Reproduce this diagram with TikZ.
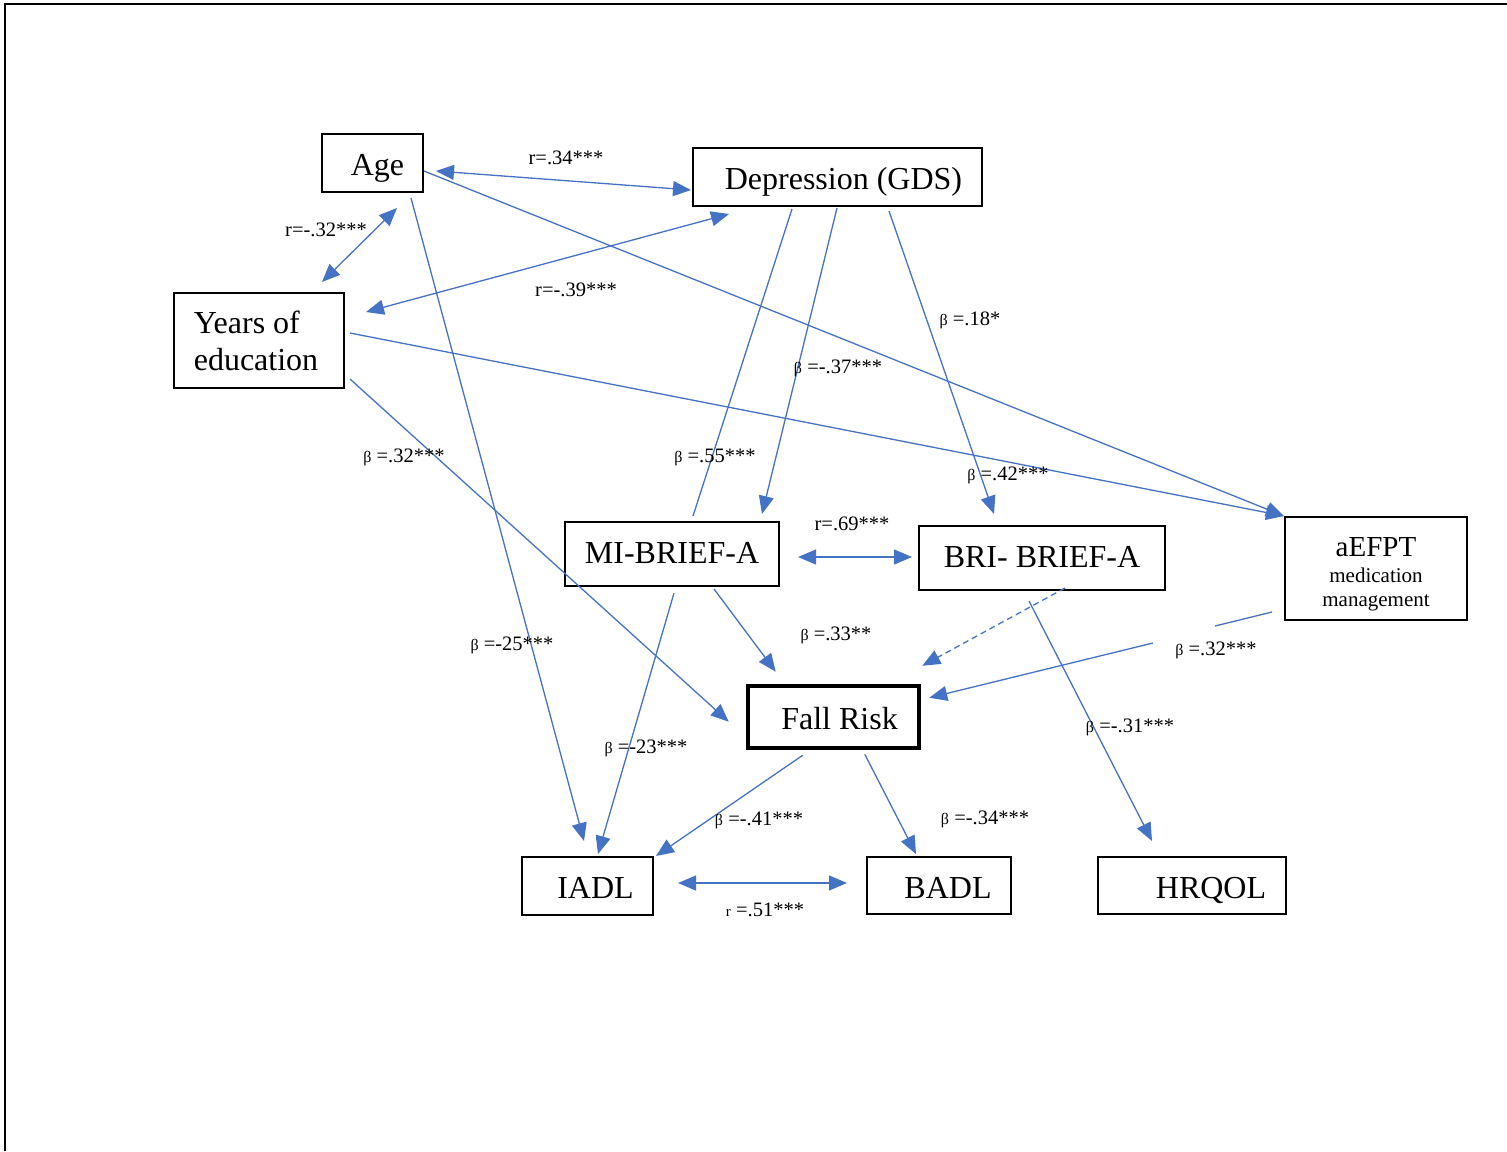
\documentclass[tikz,border=0pt]{standalone}
\usepackage{fontspec}
\setmainfont{Liberation Serif}
\usetikzlibrary{arrows.meta}
\definecolor{lnblue}{HTML}{4472C4}
\newcommand\mainsz{\fontsize{32}{37}\selectfont}
\newcommand\labsz{\fontsize{20.5}{24}\selectfont}
\newcommand\bet{{\fontsize{16}{20}\selectfont β}}
\begin{document}
\begin{tikzpicture}[x=1pt,y=-1pt,
  box/.style={draw=black, line width=2pt, inner sep=0pt, font=\mainsz},
  one/.style={text height=27pt, text depth=2pt},
  onelow/.style={text height=21pt, text depth=2pt},
  conn/.style={draw=lnblue, line width=1.3pt, -{Triangle[length=18pt,width=15pt]}},
  bconn/.style={draw=lnblue, line width=1.3pt, {Triangle[length=18pt,width=15pt]}-{Triangle[length=18pt,width=15pt]}},
  plainconn/.style={draw=lnblue, line width=1.3pt},
  lab/.style={font=\labsz, inner sep=0pt}
]
\useasboundingbox (0,0) rectangle (1507,1151);
\draw[line width=2.5pt] (5,1151) -- (5,4) -- (1507,4);

% nodes
\node[box, one, minimum width=101pt, minimum height=58pt] (age) at (372.5,163) {\hspace*{10pt}Age};
\node[box, one, minimum width=289pt, minimum height=58pt] (dep) at (837.5,177) {\hspace*{12pt}Depression (GDS)};
\node[box, minimum width=170pt, minimum height=95pt, align=left] (yrs) at (259,340.5) {Years of\\education\hspace*{6pt}};
\node[box, onelow, minimum width=214pt, minimum height=64pt] (mi) at (672,554) {MI-BRIEF-A};
\node[box, onelow, minimum width=246pt, minimum height=64pt] (bri) at (1042,558) {BRI- BRIEF-A};
\node[box, font=\fontsize{21}{23.5}\selectfont, text height=75pt, text depth=0pt, minimum width=182pt, minimum height=103pt, align=center] (efpt) at (1376,568.5)
  {{\fontsize{29}{30}\selectfont aEFPT}\\[3pt]medication\\management};
\node[box, one, line width=4.5pt, minimum width=171pt, minimum height=62pt] (fall) at (833.5,717) {\hspace*{12pt}Fall Risk};
\node[box, one, minimum width=131pt, minimum height=58pt] (iadl) at (587.5,886) {\hspace*{16pt}IADL};
\node[box, one, minimum width=144pt, minimum height=57pt] (badl) at (939,885.5) {\hspace*{18pt}BADL};
\node[box, one, minimum width=188pt, minimum height=57pt] (hrq) at (1192,885.5) {\hspace*{38pt}HRQOL};

% connectors
\draw[bconn] ([shift={(12,38)}]age.north east) -- ([shift={(-1,43)}]dep.north west);
\draw[bconn] ([shift={(76,15)}]age.south west) -- ([shift={(149,-10)}]yrs.north west);
\draw[bconn] ([shift={(21,20)}]yrs.north east) -- ([shift={(37,7)}]dep.south west);
\draw[conn] ([shift={(0,38)}]age.north east) -- (efpt.north west);
\draw[conn] ([shift={(5,41)}]yrs.north east) -- (efpt.north west);
\draw[conn] ([shift={(90,5)}]age.south west) -- ([shift={(63,-15)}]iadl.north west);
\draw[conn] ([shift={(5,-10)}]yrs.south east) -- ([shift={(-17,38)}]fall.north west);
\draw[plainconn] ([shift={(100,2)}]dep.south west) -- ([shift={(129,-5)}]mi.north west);
\draw[conn] ([shift={(145,1)}]dep.south west) -- ([shift={(198,-7)}]mi.north west);
\draw[conn] ([shift={(197,4)}]dep.south west) -- ([shift={(76,-11)}]bri.north west);
\draw[bconn] ([shift={(18,36)}]mi.north east) -- ([shift={(-6,32)}]bri.north west);
\draw[conn] ([shift={(150,2)}]mi.south west) -- ([shift={(30,-12)}]fall.north west);
\draw[conn, dash pattern=on 6pt off 4pt] ([shift={(147,-3)}]bri.south west) -- ([shift={(1,-18)}]fall.north east);
\draw[conn] ([shift={(111,10)}]bri.south west) -- ([shift={(55,-15)}]hrq.north west);
\coordinate (g1) at (1215,626);
\coordinate (g2) at (1153,643);
\draw[plainconn] ([shift={(-12,-9)}]efpt.south west) -- (g1);
\draw[conn] (g2) -- ([shift={(8,14)}]fall.north east);
\draw[conn] ([shift={(110,6)}]mi.south west) -- ([shift={(77,-2)}]iadl.north west);
\draw[conn] ([shift={(57,5)}]fall.south west) -- ([shift={(2,0)}]iadl.north east);
\draw[conn] ([shift={(119,4)}]fall.south west) -- ([shift={(50,-2)}]badl.north west);
\draw[bconn] ([shift={(24,27)}]iadl.north east) -- ([shift={(-19,27)}]badl.north west);

% labels
\node[lab] (l1) at (566,158) {r=.34***};
\node[lab] (l2) at (326,230) {r=-.32***};
\node[lab] (l3) at (576,290) {r=-.39***};
\node[lab] (l4) at (970,320) {\bet\ =.18*};
\node[lab] (l5) at (838,368) {\bet\ =-.37***};
\node[lab] (l6) at (404,457) {\bet\ =.32***};
\node[lab] (l7) at (715,457) {\bet\ =.55***};
\node[lab] (l8) at (1008,475) {\bet\ =.42***};
\node[lab] (l9) at (852,524) {r=.69***};
\node[lab] (l10) at (836,635) {\bet\ =.33**};
\node[lab] (l11) at (1216,650) {\bet\ =.32***};
\node[lab] (l12) at (512,645) {\bet\ =-25***};
\node[lab] (l13) at (1130,727) {\bet\ =-.31***};
\node[lab] (l14) at (646,748) {\bet\ =-23***};
\node[lab] (l15) at (759,820) {\bet\ =-.41***};
\node[lab] (l16) at (985,819) {\bet\ =-.34***};
\node[lab] (l17) at (765,910) {{\fontsize{15}{18}\selectfont r} =.51***};
\end{tikzpicture}
\end{document}
